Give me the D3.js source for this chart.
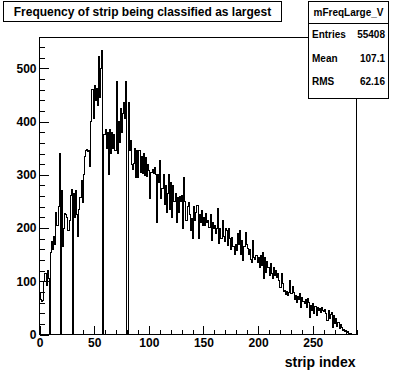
<!DOCTYPE html>
<html>
<head>
<meta charset="utf-8">
<script src="https://cdn.jsdelivr.net/npm/d3@7"></script>
<style>
    body { margin: 0; background: #fff; }
    svg { display: block; font-family: "Liberation Sans", Arial, sans-serif; font-weight: bold; }
</style>
</head>
<body>
<div id="chart"></div>
<script>
// counts per strip, bins of width 1 from 0 to 290
const binCounts = [
    77, 65, 62, 64, 100, 115, 92, 120, 105, 0,
    155, 175, 160, 185, 170, 230, 205, 240, 340, 0,
    270, 165, 200, 228, 226, 220, 195, 215, 262, 272,
    0, 265, 220, 270, 225, 185, 235, 258, 290, 248,
    300, 335, 345, 348, 343, 346, 316, 400, 460, 405,
    467, 440, 462, 430, 523, 445, 500, 533, 0, 375,
    385, 350, 380, 300, 386, 340, 380, 350, 375, 345,
    476, 340, 400, 360, 425, 380, 415, 435, 405, 475,
    0, 435, 345, 365, 320, 310, 322, 350, 295, 345,
    295, 345, 305, 335, 303, 340, 298, 333, 296, 320,
    309, 256, 305, 310, 303, 313, 300, 210, 300, 285,
    327, 255, 275, 300, 245, 280, 230, 265, 300, 235,
    285, 220, 280, 250, 265, 210, 258, 230, 260, 250,
    262, 200, 295, 250, 215, 240, 248, 225, 196, 218,
    181, 240, 215, 230, 243, 181, 225, 210, 233, 205,
    220, 205, 228, 210, 215, 201, 225, 177, 210, 200,
    205, 190, 200, 237, 171, 200, 180, 215, 185, 175,
    200, 195, 168, 199, 180, 160, 183, 165, 150, 170,
    158, 190, 170, 196, 150, 177, 139, 165, 192, 170,
    162, 150, 160, 140, 136, 177, 145, 140, 149, 136,
    145, 126, 149, 130, 155, 105, 145, 117, 138, 125,
    111, 134, 115, 105, 126, 110, 120, 108, 115, 101,
    89, 115, 95, 80, 83, 75, 80, 73, 78, 102,
    77, 90, 79, 65, 74, 60, 72, 65, 77, 51,
    70, 62, 58, 66, 50, 68, 60, 32, 55, 45,
    58, 40, 52, 36, 50, 45, 48, 42, 51, 46,
    44, 47, 40, 26, 45, 30, 38, 41, 13, 35,
    20, 30, 15, 23, 12, 18, 13, 8, 10, 6,
    8, 4, 5, 2, 1, 0, 0, 0, 0, 0
];
const xRange = [0, 290];
const yRange = [0, 558];
const xMajorTicks = [0, 50, 100, 150, 200, 250];
const yMajorTicks = [0, 100, 200, 300, 400, 500];
const titleText = "Frequency of strip being classified as largest";
const xAxisTitle = "strip index";
const statName = "mFreqLarge_V";
const statLabels = ["Entries", "Mean", "RMS"];
const statValues = ["55408", "107.1", "62.16"];

class RootHistogram {
    constructor(container) {
        this.width = 396;
        this.height = 372;
        this.frame = { left: 39.5, right: 356.5, top: 37.5, bottom: 334.5 };

        this.svg = d3.select(container)
            .append("svg")
            .attr("width", this.width)
            .attr("height", this.height);

        this.x = d3.scaleLinear().domain(xRange).range([this.frame.left, this.frame.right]);
        this.y = d3.scaleLinear().domain(yRange).range([this.frame.bottom, this.frame.top]);

        this.drawFrame();
        this.drawHistogram();
        this.drawAxes();
        this.drawTitle();
        this.drawStats();
    }

    drawFrame() {
        const f = this.frame;
        this.svg.append("rect")
            .attr("x", f.left).attr("y", f.top)
            .attr("width", f.right - f.left).attr("height", f.bottom - f.top)
            .attr("fill", "none").attr("stroke", "#000").attr("stroke-width", 1);
    }

    drawHistogram() {
        const pts = binCounts.map((v, i) => [i, v]);
        pts.push([binCounts.length, binCounts[binCounts.length - 1]]);

        const line = d3.line()
            .x(d => this.x(d[0]))
            .y(d => this.y(d[1]))
            .curve(d3.curveStepAfter);

        this.svg.append("path")
            .attr("d", line(pts))
            .attr("fill", "none")
            .attr("stroke", "#000")
            .attr("stroke-width", 1)
            .attr("shape-rendering", "crispEdges");
    }

    drawAxes() {
        const f = this.frame;
        const xMinor = d3.range(0, 291, 10).filter(v => v % 50 !== 0);
        const yMinor = d3.range(0, 559, 20).filter(v => v % 100 !== 0);

        // x axis, ticks pointing up into the frame
        const gx = this.svg.append("g").attr("transform", `translate(0,${f.bottom})`);
        gx.call(d3.axisBottom(this.x).tickValues(xMajorTicks).tickSize(-9).tickPadding(4).tickFormat(d3.format("d")));
        gx.append("g").call(d3.axisBottom(this.x).tickValues(xMinor).tickSize(-5).tickFormat(""));

        // y axis, ticks pointing right into the frame
        const gy = this.svg.append("g").attr("transform", `translate(${f.left},0)`);
        gy.call(d3.axisLeft(this.y).tickValues(yMajorTicks).tickSize(-9).tickPadding(3).tickFormat(d3.format("d")));
        gy.append("g").call(d3.axisLeft(this.y).tickValues(yMinor).tickSize(-5).tickFormat(""));

        this.svg.selectAll(".domain").remove();
        this.svg.selectAll(".tick line").attr("stroke", "#000").attr("shape-rendering", "crispEdges");
        this.svg.selectAll(".tick text")
            .attr("fill", "#000")
            .style("font-size", "12px")
            .style("font-family", "'Liberation Sans', Arial, sans-serif")
            .style("font-weight", "bold");

        this.svg.append("text")
            .attr("x", f.right - 1)
            .attr("y", 367)
            .attr("text-anchor", "end")
            .style("font-size", "14px")
            .text(xAxisTitle);
    }

    drawTitle() {
        this.svg.append("rect")
            .attr("x", 3.5).attr("y", 1.5)
            .attr("width", 278).attr("height", 20)
            .attr("fill", "#fff").attr("stroke", "#000");

        this.svg.append("text")
            .attr("x", 142.5)
            .attr("y", 15.5)
            .attr("text-anchor", "middle")
            .style("font-size", "12px")
            .text(titleText);
    }

    drawStats() {
        const box = { x: 308.5, y: 1.5, w: 80, h: 97 };
        const g = this.svg.append("g");

        g.append("rect")
            .attr("x", box.x).attr("y", box.y)
            .attr("width", box.w).attr("height", box.h)
            .attr("fill", "#fff").attr("stroke", "#000");

        g.append("line")
            .attr("x1", box.x).attr("x2", box.x + box.w)
            .attr("y1", 23.5).attr("y2", 23.5)
            .attr("stroke", "#000");

        g.append("text")
            .attr("x", box.x + box.w / 2)
            .attr("y", 16)
            .attr("text-anchor", "middle")
            .style("font-size", "10px")
            .text(statName);

        statLabels.forEach((label, i) => {
            const yy = 38 + i * 23.5;
            g.append("text")
                .attr("x", box.x + 3.5)
                .attr("y", yy)
                .style("font-size", "10px")
                .text(label);
            g.append("text")
                .attr("x", box.x + box.w - 3.5)
                .attr("y", yy)
                .attr("text-anchor", "end")
                .style("font-size", "10px")
                .text(statValues[i]);
        });
    }
}

new RootHistogram(document.getElementById("chart"));
</script>
</body>
</html>
